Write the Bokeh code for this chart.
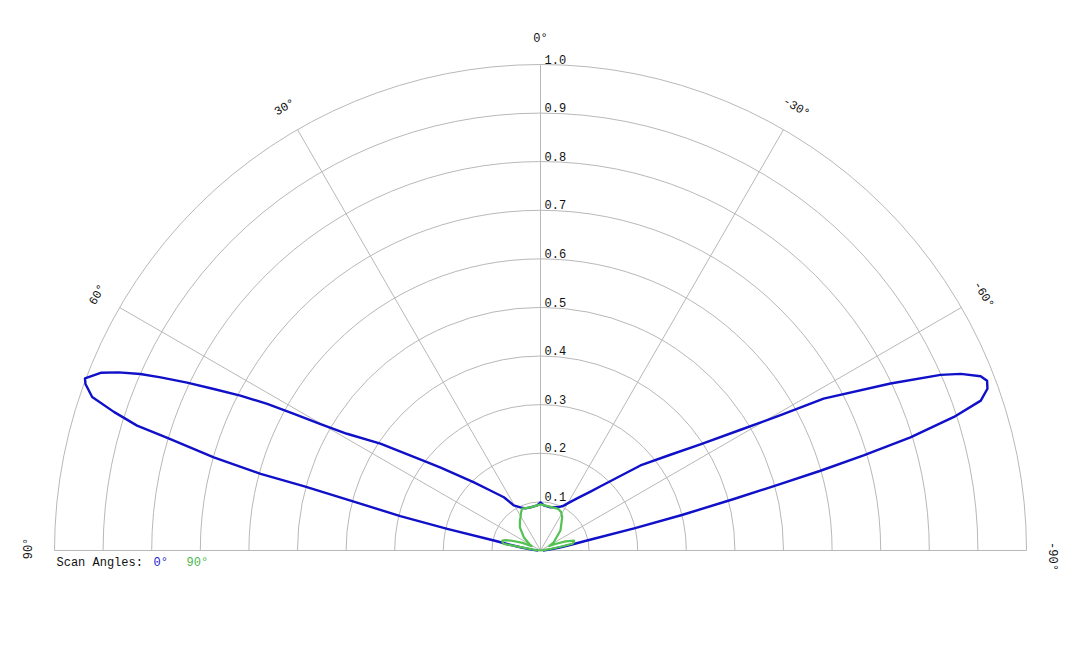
import numpy as np
from bokeh.plotting import figure
from bokeh.models import Range1d, Label
from bokeh.embed import file_html
from bokeh.resources import INLINE
from bokeh.core.properties import value

# ---------------- data ----------------
ring_values = [0.1, 0.2, 0.3, 0.4, 0.5, 0.6, 0.7, 0.8, 0.9, 1.0]
ring_labels = ["0.1", "0.2", "0.3", "0.4", "0.5", "0.6", "0.7", "0.8", "0.9", "1.0"]
spoke_angles = [60, 30, 0, -30, -60]
angle_label_angles = [90, 60, 30, 0, -30, -60, -90]
angle_labels = ["90°", "60°", "30°", "0°", "-30°", "-60°", "-90°"]
series_names = ["0°", "90°"]

# scan angle 0° (blue): polar angle in degrees (positive = left), relative value
blue_theta = [90, 85, 81, 79, 77.9, 76.9, 76.2, 75.3, 74.8, 74.7, 74.1, 73.2, 72.8,
              72.0, 71.1, 69.9, 69.3, 68.0, 67.1, 66.2, 65.5, 64.6, 63.7, 62.7, 61.8,
              61.0, 60.1, 58.9, 56.3, 52.1, 50.3, 44.3, 40.4, 34.5, 30.7, 25, 19.7,
              13, 4.2, 0, -4.2, -13, -22.9, -27.4, -29.7, -35.3, -40.3, -43.1, -49.6,
              -53.6, -56.4, -58.9, -60.6, -61.8, -64.5, -66.3, -67.2, -68.4, -69.2,
              -70.1, -71.2, -72.1, -73.0, -73.6, -74.1, -74.5, -75.1, -75.9, -76.7,
              -77.8, -79, -81, -85, -90]
blue_r = [0.005, 0.015, 0.04, 0.07, 0.098, 0.197, 0.297, 0.404, 0.505, 0.597, 0.699,
          0.802, 0.869, 0.923, 0.975, 0.997, 1.002, 0.976, 0.942, 0.900, 0.859, 0.805,
          0.750, 0.695, 0.638, 0.580, 0.522, 0.465, 0.396, 0.296, 0.267, 0.196, 0.164,
          0.133, 0.108, 0.098, 0.092, 0.091, 0.093, 0.099, 0.093, 0.091, 0.097, 0.104,
          0.111, 0.132, 0.159, 0.181, 0.270, 0.332, 0.395, 0.481, 0.567, 0.661, 0.798,
          0.899, 0.938, 0.974, 0.983, 0.978, 0.957, 0.894, 0.796, 0.693, 0.599, 0.513,
          0.410, 0.300, 0.200, 0.100, 0.070, 0.040, 0.015, 0.005]

# scan angle 90° (green)
green_theta = [90, 84, 82, 80.6, 79.7, 77.5, 75.4, 73.5, 71.6, 67, 64, 60, 51.5, 45,
               41.6, 35, 31, 27, 23.7, 13, 0, -13, -23, -28, -33, -45, -58, -63,
               -66, -70, -73.5, -76, -78, -79.5, -81.5, -84, -90]
green_r = [0.0, 0.008, 0.02, 0.042, 0.077, 0.080, 0.081, 0.075, 0.065, 0.04, 0.02,
           0.026, 0.044, 0.055, 0.064, 0.074, 0.080, 0.088, 0.094, 0.091, 0.095, 0.092,
           0.093, 0.090, 0.082, 0.058, 0.032, 0.02, 0.033, 0.055, 0.072, 0.071, 0.067,
           0.04, 0.018, 0.006, 0.0]

# ---------------- layout ----------------
W, H = 1064, 632
SCALE = 486.0           # pixels per unit radius
CX, CY = 540.0, 550.0   # centre in canvas pixels (from left, from top)

FONT = value("Liberation Mono")
GRID = "#b8b8b8"
BLUE = "#1010c8"
GREEN = "#52c252"
TXT = "#111111"


def to_xy(theta_deg, r):
    t = np.radians(np.asarray(theta_deg, dtype=float))
    r = np.asarray(r, dtype=float)
    return -r * np.sin(t), r * np.cos(t)


p = figure(width=W, height=H,
           x_range=Range1d(-CX / SCALE, (W - CX) / SCALE),
           y_range=Range1d(-(H - CY) / SCALE, CY / SCALE),
           output_backend="svg", toolbar_location=None,
           x_axis_type=None, y_axis_type=None, min_border=0,
           outline_line_color=None, background_fill_color="white",
           border_fill_color="white")

rmax = max(ring_values)

# rings
p.arc(x=0, y=0, radius=ring_values, start_angle=0, end_angle=np.pi,
      line_color=GRID, line_width=1)
# baseline
p.segment(x0=[-rmax], y0=[0], x1=[rmax], y1=[0], line_color=GRID, line_width=1)
# spokes
sx, sy = to_xy(spoke_angles, [rmax] * len(spoke_angles))
p.segment(x0=[0] * len(spoke_angles), y0=[0] * len(spoke_angles), x1=sx, y1=sy,
          line_color=GRID, line_width=1)

# radial labels
p.text(x=[0] * len(ring_values), y=ring_values, text=ring_labels, x_offset=4, y_offset=-1,
       text_align="left", text_baseline="bottom", text_font=FONT,
       text_font_size="12px", text_color=TXT)

# angle labels
lr = 1.052 * rmax
ax_, ay_ = to_xy(angle_label_angles, [lr] * len(angle_label_angles))
p.text(x=ax_, y=ay_, text=angle_labels, angle=list(np.radians(angle_label_angles)),
       y_offset=[-2, 0, 0, 0, 0, 0, 6],
       text_align="center", text_baseline="middle", text_font=FONT,
       text_font_size="12px", text_color=TXT)

# series
bx, by = to_xy(blue_theta, blue_r)
p.line(bx, by, line_color=BLUE, line_width=2.4, line_join="round")
gx, gy = to_xy(green_theta, green_r)
p.line(gx, gy, line_color=GREEN, line_width=2.2, line_join="round")

# legend texts
LY = H - 562
p.add_layout(Label(x=56, y=LY, x_units="screen", y_units="screen", text="Scan Angles:",
                   text_font="Liberation Mono", text_font_size="12px",
                   text_color=TXT, text_baseline="middle"))
p.add_layout(Label(x=153, y=LY, x_units="screen", y_units="screen", text=series_names[0],
                   text_font="Liberation Mono", text_font_size="12px",
                   text_color="#1c1cd0", text_baseline="middle"))
p.add_layout(Label(x=186, y=LY, x_units="screen", y_units="screen", text=series_names[1],
                   text_font="Liberation Mono", text_font_size="12px",
                   text_color="#4cb84c", text_baseline="middle"))

open("out.html", "w").write(file_html(p, INLINE))
